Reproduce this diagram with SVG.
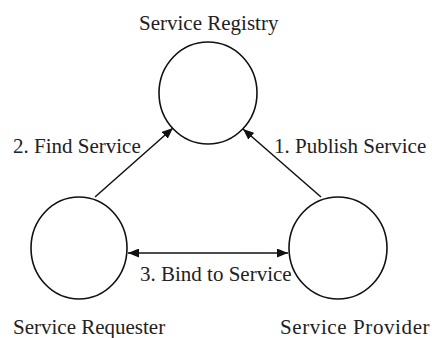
<svg xmlns="http://www.w3.org/2000/svg" width="432" height="338" viewBox="0 0 432 338">
<defs>
<style>
.node{fill:#fff;stroke:#111;stroke-width:1.6}
.lbl{font-family:"Liberation Serif","Times New Roman",serif;font-size:21px;fill:#222}
.conn{stroke:#111;stroke-width:1.5;fill:none}
</style>
<marker id="ah" viewBox="0 0 11 9" refX="11" refY="4.5" markerWidth="11" markerHeight="9" markerUnits="userSpaceOnUse" orient="auto-start-reverse">
<path d="M0,0 L11,4.5 L0,9 z" fill="#111"/>
</marker>
</defs>
<rect width="432" height="338" fill="#fff"/>
<g id="registry">
<ellipse class="node" cx="208" cy="93" rx="49" ry="51"/>
<text class="lbl" x="139" y="30">Service Registry</text>
</g>
<g id="requester">
<ellipse class="node" cx="79" cy="248" rx="48" ry="51"/>
<text class="lbl" x="13" y="334">Service Requester</text>
</g>
<g id="provider">
<ellipse class="node" cx="338" cy="248" rx="49" ry="51"/>
<text class="lbl" x="280" y="334" letter-spacing="0.6">Service Provider</text>
</g>
<g id="connectors">
<line class="conn" x1="95" y1="197" x2="173" y2="128" marker-end="url(#ah)"/>
<line class="conn" x1="321" y1="197" x2="243" y2="129" marker-end="url(#ah)"/>
<line class="conn" x1="128" y1="253" x2="288" y2="253" marker-start="url(#ah)" marker-end="url(#ah)"/>
<text class="lbl" x="13" y="153">2. Find Service</text>
<text class="lbl" x="274" y="153">1. Publish Service</text>
<text class="lbl" x="140" y="281">3. Bind to Service</text>
</g>
</svg>
